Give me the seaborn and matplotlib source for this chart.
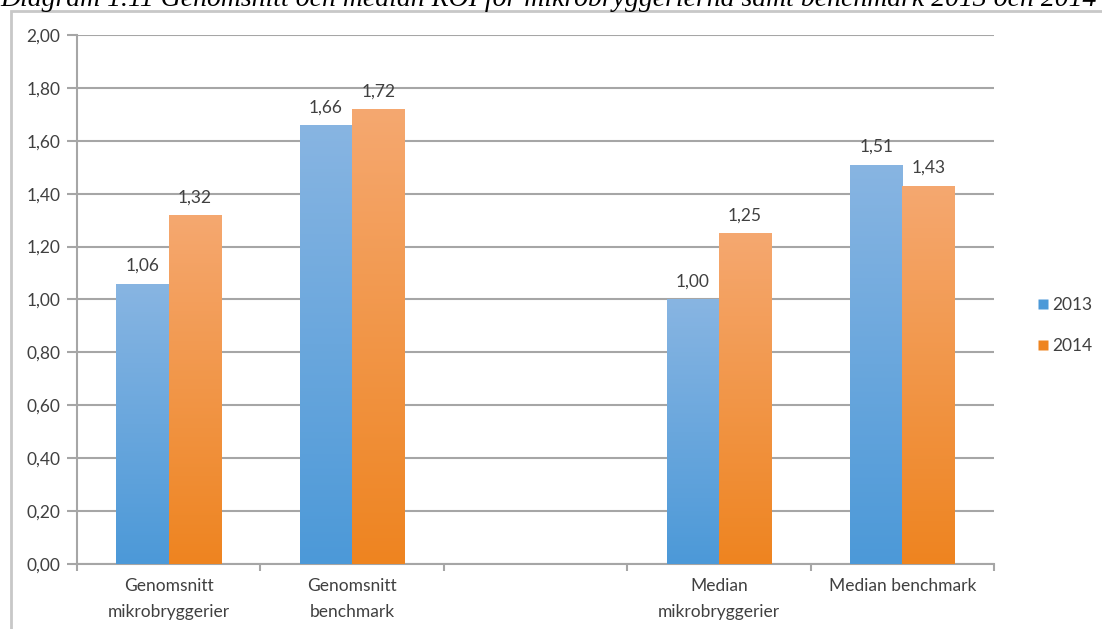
import numpy as np
import pandas as pd
import seaborn as sns
import matplotlib.pyplot as plt
from matplotlib.patches import Rectangle
from matplotlib.ticker import FuncFormatter

kategorier = ["Genomsnitt\nmikrobryggerier", "Genomsnitt\nbenchmark", "",
              "Median\nmikrobryggerier", "Median benchmark"]
roi_2013 = [1.06, 1.66, None, 1.00, 1.51]
roi_2014 = [1.32, 1.72, None, 1.25, 1.43]
år = ["2013", "2014"]
titel = "Diagram 1.11 Genomsnitt och median ROI för mikrobryggerierna samt benchmark 2013 och 2014"

df = pd.DataFrame({
    "kategori": kategorier * 2,
    "år": [år[0]] * 5 + [år[1]] * 5,
    "roi": roi_2013 + roi_2014,
}).dropna()

sns.set_style("white")
plt.rcParams["font.family"] = ["Lato", "DejaVu Sans"]

gradient = {
    "2013": ("#88b5e2", "#4c99d8"),
    "2014": ("#f5a870", "#ee8420"),
}

fig = plt.figure(figsize=(11.02, 6.29), dpi=100)
ax = fig.add_axes([0.0699, 0.1033, 0.8321, 0.8411])

sns.barplot(data=df, x="kategori", y="roi", hue="år", order=kategorier,
            hue_order=år, width=0.57, gap=0, palette=[g[1] for g in gradient.values()],
            legend=False, ax=ax, zorder=3)

# gradientfyllning i staplarna
for cont, a in zip(ax.containers, år):
    topp, botten = gradient[a]
    cmap = sns.blend_palette([botten, topp], as_cmap=True)
    for p in cont.patches:
        if np.isnan(p.get_height()):
            continue
        x0, w, h = p.get_x(), p.get_width(), p.get_height()
        im = ax.imshow(np.linspace(0, 1, 256).reshape(-1, 1), cmap=cmap,
                       extent=[x0, x0 + w, 0, h], origin="lower",
                       aspect="auto", zorder=3)
        im.set_clip_path(p)
        p.set_facecolor("none")
        p.set_edgecolor("none")
    ax.bar_label(cont, fmt=lambda v: f"{v:.2f}".replace(".", ","),
                 padding=7, fontsize=12.5, color="#404040")

ax.set_xlim(-0.5, 4.5)
ax.set_ylim(0, 2.0)
ax.set_yticks(np.arange(0, 2.01, 0.2))
ax.yaxis.set_major_formatter(FuncFormatter(lambda v, _: f"{v:.2f}".replace(".", ",")))
ax.set_xticks(range(5))
ax.set_xticklabels(kategorier, linespacing=1.75)
ax.set_xticks(np.arange(-0.5, 5, 1), minor=True)
ax.tick_params(axis="x", which="major", length=0, pad=10, labelsize=12.5, labelcolor="#404040")
ax.tick_params(axis="x", which="minor", length=5, width=1.5, color="#a6a6a6", direction="out", bottom=True)
ax.tick_params(axis="y", length=7, width=1.5, color="#a6a6a6", left=True,
               labelsize=12.5, labelcolor="#404040", pad=5)
ax.set_xlabel("")
ax.set_ylabel("")

ax.yaxis.grid(True, color="#a6a6a6", linewidth=1.5, zorder=0)
ax.set_axisbelow(True)
for s in ["top", "right"]:
    ax.spines[s].set_visible(False)
for s in ["left", "bottom"]:
    ax.spines[s].set_color("#a6a6a6")
    ax.spines[s].set_linewidth(1.5)

# förklaring
handles = [plt.Line2D([], [], marker="s", linestyle="", markersize=7,
                      markerfacecolor=gradient[a][1], markeredgecolor="none") for a in år]
fig.legend(handles, år, loc="center left", bbox_to_anchor=(0.926, 0.482),
           frameon=False, fontsize=12.5, labelspacing=1.45, handletextpad=0.15,
           handlelength=0.8, labelcolor="#404040")

# ram runt diagrammet
fig.patches.append(Rectangle((11 / 1102, -0.01), 1.02, 1 - 11 / 629 + 0.01,
                             transform=fig.transFigure, fill=False,
                             edgecolor="#c8c8c8", linewidth=2))

# avskuren rubrik
fig.text(0.0, 1 - 6 / 629, titel, family="Liberation Serif", style="italic",
         fontsize=20, va="baseline", ha="left", color="black")

fig.savefig("out.png", dpi=100)
